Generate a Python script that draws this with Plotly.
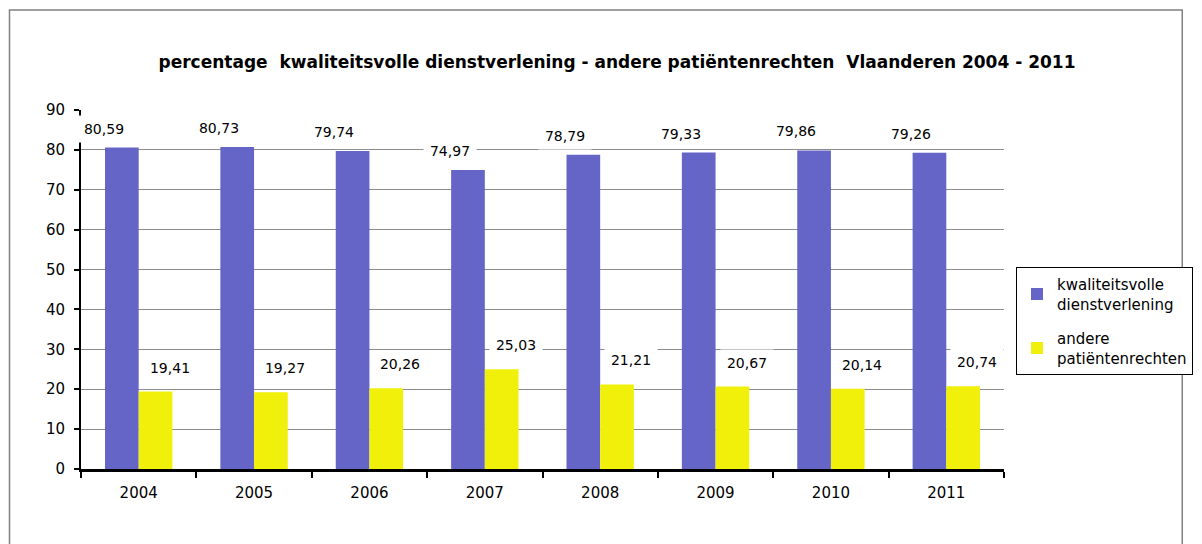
import plotly.graph_objects as go

years = ["2004", "2005", "2006", "2007", "2008", "2009", "2010", "2011"]
kwaliteit = [80.59, 80.73, 79.74, 74.97, 78.79, 79.33, 79.86, 79.26]
andere = [19.41, 19.27, 20.26, 25.03, 21.21, 20.67, 20.14, 20.74]
name_kwal = "kwaliteitsvolle<br>dienstverlening"
name_andere = "andere<br>patiëntenrechten"
title_text = "percentage\u00a0 kwaliteitsvolle dienstverlening - andere patiëntenrechten\u00a0 Vlaanderen 2004 - 2011"

BLUE = "#6565C8"
YELLOW = "#F0F00A"
FONT = "DejaVu Sans"

fig = go.Figure()
fig.add_trace(go.Bar(x=years, y=kwaliteit, name=name_kwal, legendgroup="a",
                     marker=dict(color=BLUE, line=dict(width=0))))
fig.add_trace(go.Bar(x=years, y=andere, name=name_andere, legendgroup="b",
                     marker=dict(color=YELLOW, line=dict(width=0))))

def fmt(v):
    return f"{v:.2f}".replace(".", ",")

annotations = []
for i, v in enumerate(kwaliteit):
    annotations.append(dict(x=i, y=v, xref="x", yref="y", text=fmt(v), showarrow=False,
                            xshift=-35, yshift=19, yanchor="middle", xanchor="center",
                            bgcolor="white", width=50, height=24,
                            font=dict(family=FONT, size=14, color="black")))
for i, v in enumerate(andere):
    annotations.append(dict(x=i, y=v, xref="x", yref="y", text=fmt(v), showarrow=False,
                            xshift=31, yshift=24, yanchor="middle", xanchor="center",
                            bgcolor="white", width=50, height=24,
                            font=dict(family=FONT, size=14, color="black")))

W, H = 1186, 536
# page is drawn with an 8px offset; plot area spans x 81..1013, y 110..469 on screen
fig.update_layout(
    width=W, height=H,
    margin=dict(l=73, r=181, t=102, b=75),
    paper_bgcolor="white", plot_bgcolor="white",
    barmode="group", bargap=0.416, bargroupgap=0,
    font=dict(family=FONT, size=15, color="black"),
    title=dict(text="<b>" + title_text + "</b>", x=609 / W, xanchor="center",
               y=1 - 54 / H, yanchor="middle", font=dict(family=FONT, size=17, color="black")),
    annotations=annotations,
    legend=dict(xref="container", yref="container",
                x=1008 / W, y=1 - 259 / H, xanchor="left", yanchor="top",
                bordercolor="black", borderwidth=1, bgcolor="white",
                font=dict(family=FONT, size=15, color="black"),
                itemwidth=30, tracegroupgap=12),
    shapes=[dict(type="rect", xref="paper", yref="paper",
                 x0=(8.8 - 81) / 932, x1=(1193 - 81) / 932,
                 y0=(469 - 560) / 359, y1=(469 - 10) / 359,
                 line=dict(color="#808080", width=1.5), layer="below")],
)
fig.update_yaxes(range=[0, 90], dtick=10, showgrid=True, gridcolor="#8C8C8C", gridwidth=1,
                 showline=True, linecolor="black", linewidth=2, ticks="outside", ticklen=5,
                 tickcolor="black", tickwidth=1.5, zeroline=False, ticklabelstandoff=6,
                 tickfont=dict(family=FONT, size=15))
fig.update_xaxes(type="category", range=[-0.5, len(years) - 0.5], showline=True,
                 linecolor="black", linewidth=2.5,
                 ticks="outside", ticklen=6, tickangle=0,
                 tickcolor="black", tickwidth=1.5, tickson="boundaries", showgrid=False,
                 ticklabelstandoff=8, tickfont=dict(family=FONT, size=15))

fig.write_html("out.html")
